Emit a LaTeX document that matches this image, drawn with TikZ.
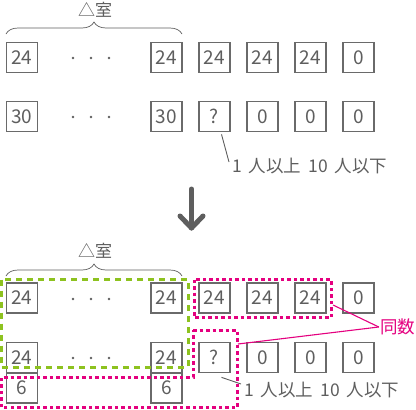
\documentclass[tikz,border=0pt]{standalone}
\usepackage{fontspec}
\setmainfont{Noto Sans CJK JP}
\usetikzlibrary{decorations.pathreplacing}
\definecolor{boxgray}{HTML}{6A6A6A}
\definecolor{txtgray}{HTML}{5E5E5E}
\definecolor{pinkc}{HTML}{E4007F}
\definecolor{greenc}{HTML}{8DC21F}
\newcommand{\gapsp}{\hspace{7pt}}
\tikzset{
  cell/.style={draw=boxgray, line width=1.7pt, minimum width=31pt, minimum height=30pt, inner sep=0pt, text=txtgray, font=\fontsize{19}{19}\selectfont},
  dotc/.style={circle, fill=txtgray, inner sep=0pt, minimum size=2.6pt},
  lbl/.style={text=txtgray, font=\fontsize{17}{17}\selectfont, inner sep=0pt},
  note/.style={text=txtgray, font=\fontsize{17.5}{18}\selectfont, inner sep=0pt, anchor=west},
  thinline/.style={draw=txtgray, line width=0.9pt},
  bracec/.style={draw=txtgray, line width=0.7pt, decorate, decoration={brace, amplitude=12pt}},
  pinkbox/.style={draw=pinkc, line width=3pt, dash pattern=on 3.5pt off 3pt},
  greenbox/.style={draw=greenc, line width=3pt, dash pattern=on 6pt off 5pt},
  pinkline/.style={draw=pinkc, line width=1.1pt}
}
\begin{document}
\begin{tikzpicture}[x=1pt,y=-1pt]
\useasboundingbox (0,0) rectangle (416,410);
% ---------- top part ----------
\draw[bracec] (6,34) -- (182,34);
\node[lbl] (lab1) at (95,10) {△室};
\node[cell] (a1) at (22,57.5) {24};
\node[cell] (a2) at (166.5,57.5) {24};
\node[cell] (a3) at (214.5,57.5) {24};
\node[cell] (a4) at (262.5,57.5) {24};
\node[cell] (a5) at (310.5,57.5) {24};
\node[cell] (a6) at (358.5,57.5) {0};
\node[dotc] (ad1) at (73,58) {};
\node[dotc] (ad2) at (91,58) {};
\node[dotc] (ad3) at (109,58) {};
\node[cell] (b1) at (22,116.5) {30};
\node[cell] (b2) at (166.5,116.5) {30};
\node[cell] (b3) at (214.5,116.5) {?};
\node[cell] (b4) at (262.5,116.5) {0};
\node[cell] (b5) at (310.5,116.5) {0};
\node[cell] (b6) at (358.5,116.5) {0};
\node[dotc] (bd1) at (73,117) {};
\node[dotc] (bd2) at (91,117) {};
\node[dotc] (bd3) at (109,117) {};
\node[note] (n1) at (232,166) {1\gapsp 人以上\gapsp 10\gapsp 人以下};
\coordinate (n1end) at (229,162);
\draw[thinline] ([xshift=7pt,yshift=-2pt]b3.south) -- (n1end);
% ---------- arrow ----------
\coordinate (arrT) at (191.5,189);
\coordinate (arrB) at (191.5,228);
\draw[draw=txtgray, line width=5pt, line cap=round] (arrT) -- (arrB);
\draw[draw=txtgray, line width=5pt, line cap=round, line join=round] (180,216) -- (arrB) -- (203,216);
% ---------- bottom part ----------
\draw[bracec] (6,276) -- (182,276);
\node[lbl] (lab2) at (95,251) {△室};
\node[cell] (c1) at (22,298) {24};
\node[cell] (c2) at (166.5,298) {24};
\node[cell] (c3) at (214.5,298) {24};
\node[cell] (c4) at (262.5,298) {24};
\node[cell] (c5) at (310.5,298) {24};
\node[cell] (c6) at (358.5,298) {0};
\node[dotc] (cd1) at (73,299) {};
\node[dotc] (cd2) at (91,299) {};
\node[dotc] (cd3) at (109,299) {};
\node[cell] (d1) at (22,357.5) {24};
\node[cell] (d2) at (166.5,357.5) {24};
\node[cell] (d3) at (214.5,357.5) {?};
\node[cell] (d4) at (262.5,357.5) {0};
\node[cell] (d5) at (310.5,357.5) {0};
\node[cell] (d6) at (358.5,357.5) {0};
\node[dotc] (dd1) at (73,358) {};
\node[dotc] (dd2) at (91,358) {};
\node[dotc] (dd3) at (109,358) {};
\node[cell] (e1) at (22,388) {6};
\node[cell] (e2) at (166.5,388) {6};
% dashed groups
\draw[greenbox] (1.5,279.5) rectangle (188,367);
\draw[pinkbox] (194,279.5) rectangle (331,317.5);
\draw[pinkbox] (193,330) -- (237,330) -- (237,407.5) -- (1.5,407.5) -- (1.5,377) -- (193,377) -- cycle;
% labels
\node[text=pinkc, font=\fontsize{17.5}{18}\selectfont, inner sep=0pt] (same) at (397.5,327) {同数};
\coordinate (p1) at (333,305);
\coordinate (p2) at (238,344);
\draw[pinkline] (p1) -- ([xshift=-1pt]same.west);
\draw[pinkline] (p2) -- ([xshift=-1pt]same.west);
\node[note] (n2) at (244,390) {1\gapsp 人以上\gapsp 10\gapsp 人以下};
\coordinate (n2end) at (241,384);
\draw[thinline] ([xshift=7pt,yshift=-4pt]d3.south) -- (n2end);
\end{tikzpicture}
\end{document}
